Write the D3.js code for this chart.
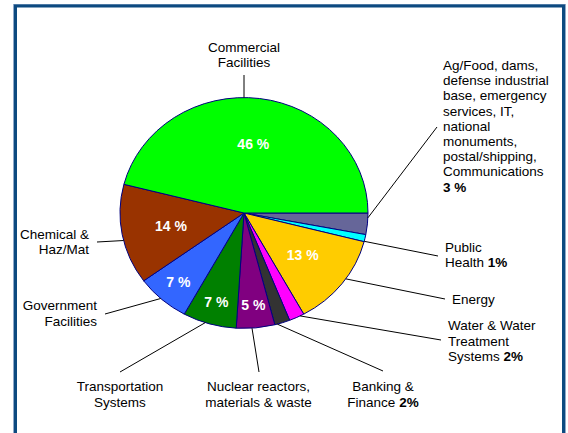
<!DOCTYPE html>
<html lang="en">
    <head>
        <meta charset="utf-8">
        <title>Sectors</title>
        <script src="https://d3js.org/d3.v7.min.js"></script>
        <style type="text/css">
            body { margin: 0; background: white; }
            .label { font-family: "Liberation Sans", Arial, sans-serif; font-size: 13.5px; fill: #000; }
            .pct { font-family: "Liberation Sans", Arial, sans-serif; font-size: 14px; font-weight: bold; fill: white; }
            .leader { stroke: #000; stroke-width: 1px; fill: none; }
        </style>
    </head>
    <body>
        <script type="text/javascript">

            // slices, clockwise from 3 o'clock
            const categories = ["Ag/Food", "Public Health", "Energy", "Water", "Banking", "Nuclear",
                                "Transportation", "Government", "Chemical", "Commercial"];
            const values = [3, 1, 13, 2, 2, 5, 7, 7, 14, 46];
            const colors = ["#666699", "#00ffff", "#ffcc00", "#ff00ff", "#333333", "#800080",
                            "#008000", "#3366ff", "#993300", "#00ff00"];
            const labelLines = [
                ["Ag/Food, dams,", "defense industrial", "base, emergency", "services, IT,", "national", "monuments,", "postal/shipping,", "Communications"],
                ["Public", "Health"],
                ["Energy"],
                ["Water & Water", "Treatment", "Systems"],
                ["Banking &", "Finance"],
                ["Nuclear reactors,", "materials & waste"],
                ["Transportation", "Systems"],
                ["Government", "Facilities"],
                ["Chemical &", "Haz/Mat"],
                ["Commercial", "Facilities"]
            ];
            // how the percent shows in the outer label (null = inside the slice)
            const pctOuter = ["line", "inline", null, "inline", "inline", null, null, null, null, null];

            const w = 568;
            const h = 433;
            const cx = 244, cy = 213, rx = 124, ry = 115.4;
            const lh = 15.5;

            // label placement: anchor point of first baseline, leader end, leader angle shift (deg)
            const layout = [
                {x: 443, y: 70, anchor: "start", end: [437, 127], shift: -3, lh: 15.2},
                {x: 445, y: 251.5, anchor: "start", end: [438, 256], shift: 1.6},
                {x: 452, y: 304, anchor: "start", end: [445, 299], shift: -3},
                {x: 448, y: 330, anchor: "start", end: [441, 340], shift: -1.7},
                {x: 383, y: 391, anchor: "middle", end: [383, 371], shift: 2.4},
                {x: 258.5, y: 391, anchor: "middle", end: [259, 372], shift: 1.7},
                {x: 120, y: 391, anchor: "middle", end: [120, 372], shift: 2},
                {x: 97, y: 310, anchor: "end", end: [105, 314], shift: 0.8},
                {x: 89, y: 238.5, anchor: "end", end: [97, 242], shift: -3},
                {x: 244, y: 51.5, anchor: "middle", end: [244, 75], shift: -7.2}
            ];

            const svg = d3.select("body")
                    .append("svg")
                    .attr("width", w)
                    .attr("height", h);

            // frame
            svg.append("rect")
               .attr("x", 13.5).attr("y", 4.5).attr("width", 552).attr("height", 460)
               .attr("fill", "none").attr("stroke", "#8fa9c9").attr("stroke-width", 1);
            svg.append("rect")
               .attr("x", 15.5).attr("y", 6).attr("width", 548).attr("height", 460)
               .attr("fill", "white").attr("stroke", "#0d4a80").attr("stroke-width", 3);

            const pie = d3.pie()
                          .sort(null)
                          .startAngle(Math.PI / 2)
                          .endAngle(Math.PI / 2 + 2 * Math.PI);
            const arcs = pie(values);
            const arc = d3.arc().innerRadius(0).outerRadius(rx);

            const g = svg.append("g")
                         .attr("transform", "translate(" + cx + "," + cy + ") scale(1," + (ry / rx) + ")");

            g.selectAll("path")
             .data(arcs)
             .join("path")
             .attr("d", arc)
             .attr("fill", (d, i) => colors[i])
             .attr("stroke", "#000080")
             .attr("stroke-width", 1)
             .attr("vector-effect", "non-scaling-stroke");

            // percent inside the bigger slices
            arcs.forEach((d, i) => {
                if (pctOuter[i] !== null) return;
                const k = values[i] >= 10 ? 0.6 : 0.8;
                const c = d3.arc().innerRadius(rx * k).outerRadius(rx * k).centroid(d);
                svg.append("text")
                   .attr("class", "pct")
                   .attr("text-anchor", "middle")
                   .attr("x", cx + c[0])
                   .attr("y", cy + c[1] * ry / rx + 5)
                   .text(values[i] + " %");
            });

            // leaders from the rim
            arcs.forEach((d, i) => {
                const L = layout[i];
                const a = (d.startAngle + d.endAngle) / 2 + L.shift * Math.PI / 180;
                svg.append("line")
                   .attr("class", "leader")
                   .attr("x1", cx + rx * Math.sin(a))
                   .attr("y1", cy - ry * Math.cos(a))
                   .attr("x2", L.end[0])
                   .attr("y2", L.end[1]);
            });

            // outer labels
            categories.forEach((c, i) => {
                const L = layout[i];
                const step = L.lh || lh;
                const t = svg.append("text")
                             .attr("class", "label")
                             .attr("text-anchor", L.anchor);
                const lines = labelLines[i];
                lines.forEach((s, j) => {
                    const ts = t.append("tspan")
                                .attr("x", L.x)
                                .attr("y", L.y + j * step)
                                .text(s);
                    if (j === lines.length - 1 && pctOuter[i] === "inline") {
                        t.append("tspan").attr("font-weight", "bold").text(" " + values[i] + "%");
                    }
                });
                if (pctOuter[i] === "line") {
                    t.append("tspan")
                     .attr("x", L.x)
                     .attr("y", L.y + lines.length * step)
                     .attr("font-weight", "bold")
                     .text(values[i] + " %");
                }
            });
        </script>
    </body>
</html>
